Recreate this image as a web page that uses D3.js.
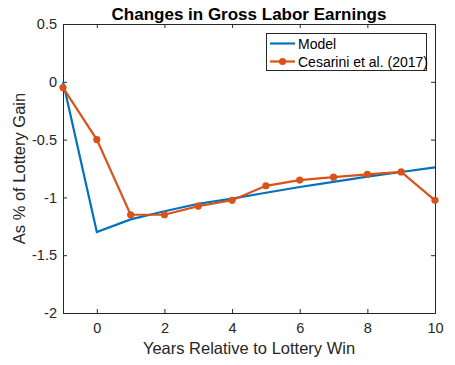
<!DOCTYPE html>
<html><head><meta charset="utf-8">
<script src="https://cdn.jsdelivr.net/npm/d3@7"></script>
<style>body{margin:0;background:#fff;} text{font-family:"Liberation Sans",Arial,sans-serif;}</style>
</head><body>
<script>
const years = [-1,0,1,2,3,4,5,6,7,8,9,10];
const modelValues = [0,-1.30,-1.19,-1.12,-1.055,-1.01,-0.96,-0.91,-0.865,-0.82,-0.78,-0.74];
const cesariniValues = [-0.05,-0.50,-1.15,-1.15,-1.075,-1.025,-0.90,-0.85,-0.825,-0.80,-0.78,-1.025];
const xTicks = [0,2,4,6,8,10];
const yTicks = [0.5,0,-0.5,-1,-1.5,-2];
const seriesNames = ["Model","Cesarini et al. (2017)"];
const colors = ["#0072BD","#D95319"];

const W=455,H=365;
const L=63,R=435,T=24,B=313;
const svg=d3.select("body").append("svg").attr("width",W).attr("height",H);
const x=d3.scaleLinear().domain([-1,10]).range([L,R]);
const y=d3.scaleLinear().domain([-2,0.5]).range([B,T]);
const axc="#262626";

const fmt=d=>String(d);
svg.append("g").attr("transform",`translate(0,${B})`)
  .call(d3.axisBottom(x).tickValues(xTicks).tickSize(-4).tickPadding(10).tickFormat(fmt));
svg.append("g").attr("transform",`translate(0,${T})`)
  .call(d3.axisTop(x).tickValues(xTicks).tickSize(-4).tickFormat(""));
svg.append("g").attr("transform",`translate(${L},0)`)
  .call(d3.axisLeft(y).tickValues(yTicks).tickSize(-4).tickPadding(6).tickFormat(fmt));
svg.append("g").attr("transform",`translate(${R},0)`)
  .call(d3.axisRight(y).tickValues(yTicks).tickSize(-4).tickFormat(""));
svg.selectAll(".domain").attr("stroke",axc).attr("stroke-width",1);
svg.selectAll(".tick line").attr("stroke",axc);
svg.selectAll(".tick text").attr("fill",axc).attr("font-size",14.5).attr("font-family","Liberation Sans, Arial, sans-serif");

const line=d3.line().x((d,i)=>x(years[i])).y(d=>y(d));
svg.append("path").datum(modelValues).attr("d",line).attr("fill","none")
  .attr("stroke",colors[0]).attr("stroke-width",2.2);
svg.append("path").datum(cesariniValues).attr("d",line).attr("fill","none")
  .attr("stroke",colors[1]).attr("stroke-width",2.2);
svg.selectAll("circle.c").data(cesariniValues).enter().append("circle")
  .attr("cx",(d,i)=>x(years[i])).attr("cy",d=>y(d)).attr("r",3.6).attr("fill",colors[1]);

svg.append("text").attr("x",249).attr("y",20).attr("text-anchor","middle")
  .attr("font-size",17).attr("font-weight","bold").attr("fill","#000").text("Changes in Gross Labor Earnings");
svg.append("text").attr("x",249).attr("y",354).attr("text-anchor","middle")
  .attr("font-size",16.5).attr("fill",axc).text("Years Relative to Lottery Win");
svg.append("text").attr("transform",`translate(25,${(T+B)/2}) rotate(-90)`).attr("text-anchor","middle")
  .attr("font-size",16.5).attr("fill",axc).text("As % of Lottery Gain");

const lg=svg.append("g");
lg.append("rect").attr("x",266.5).attr("y",33.5).attr("width",160).attr("height",37)
  .attr("fill","#fff").attr("stroke",axc).attr("stroke-width",1);
seriesNames.forEach((n,i)=>{
  const ly=43.5+i*18;
  lg.append("line").attr("x1",270).attr("x2",295).attr("y1",ly).attr("y2",ly)
    .attr("stroke",colors[i]).attr("stroke-width",2.2);
  if(i===1) lg.append("circle").attr("cx",282.5).attr("cy",ly).attr("r",3.6).attr("fill",colors[i]);
  lg.append("text").attr("x",298).attr("y",ly+5).attr("font-size",14).attr("fill","#000").text(n);
});
</script>
</body></html>
